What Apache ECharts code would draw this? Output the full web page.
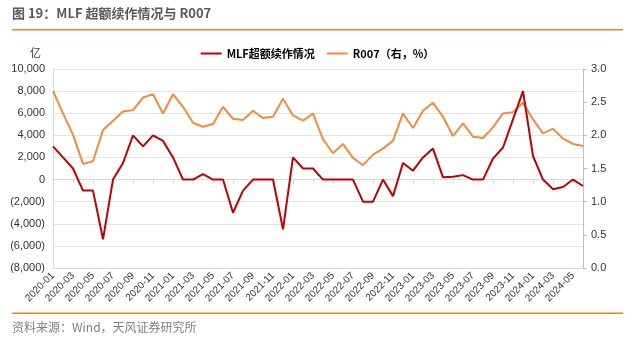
<!DOCTYPE html>
<html><head><meta charset="utf-8">
<script src="https://cdn.jsdelivr.net/npm/echarts@6/dist/echarts.min.js"></script>
<style>html,body{margin:0;padding:0;background:#fff}#c{width:635px;height:344px}</style>
</head><body><div id="c"></div>
<script>
var categories = ["2020-01","2020-02","2020-03","2020-04","2020-05","2020-06","2020-07","2020-08","2020-09","2020-10","2020-11","2020-12",
"2021-01","2021-02","2021-03","2021-04","2021-05","2021-06","2021-07","2021-08","2021-09","2021-10","2021-11","2021-12",
"2022-01","2022-02","2022-03","2022-04","2022-05","2022-06","2022-07","2022-08","2022-09","2022-10","2022-11","2022-12",
"2023-01","2023-02","2023-03","2023-04","2023-05","2023-06","2023-07","2023-08","2023-09","2023-10","2023-11","2023-12",
"2024-01","2024-02","2024-03","2024-04","2024-05","2024-06"];
var mlfExcess = [3000,2000,1000,-1000,-1000,-5400,0,1500,4000,3000,4000,3500,
2000,0,0,500,0,0,-3000,-1000,0,0,0,-4500,
2000,1000,1000,0,0,0,0,-2000,-2000,0,-1500,1500,
800,2000,2800,200,250,400,0,0,1900,2900,5450,8000,
2130,0,-880,-670,0,-580];
var r007 = [2.67,2.33,2.01,1.57,1.61,2.08,2.22,2.36,2.38,2.57,2.62,2.33,
2.62,2.43,2.19,2.13,2.17,2.43,2.25,2.23,2.37,2.26,2.28,2.55,
2.30,2.22,2.33,1.94,1.73,1.87,1.66,1.55,1.71,1.80,1.92,2.33,
2.11,2.37,2.49,2.28,1.99,2.18,1.98,1.96,2.12,2.33,2.35,2.49,
2.24,2.03,2.10,1.95,1.87,1.84];
var seriesNames = ["MLF超额续作情况","R007（右，%）"];

function fmtLeft(v){
  var s = Math.abs(v).toString().replace(/\B(?=(\d{3})+(?!\d))/g, ",");
  return v < 0 ? "(" + s + ")" : s;
}
var font = "'Liberation Sans','Noto Sans CJK SC',sans-serif";
var chart = echarts.init(document.getElementById('c'));
chart.setOption({
  animation:false,
  textStyle:{fontFamily:font},
  graphic:[
    {type:'text',left:12,top:7,style:{text:'图 19：MLF 超额续作情况与 R007',font:"bold 13px 'Noto Sans CJK SC',sans-serif",fill:'#595959'}},
    {type:'rect',shape:{x:12,y:29,width:611,height:1.5},style:{fill:'#F0821E'}},
    {type:'text',left:30,top:47,style:{text:'亿',font:"11px 'Noto Sans CJK SC',sans-serif",fill:'#333'}},
    {type:'rect',shape:{x:12,y:312.5,width:611,height:1.5},style:{fill:'#F0821E'}},
    {type:'text',left:12,top:321,style:{text:'资料来源：Wind，天风证券研究所',font:"12px 'Noto Sans CJK SC',sans-serif",fill:'#7f7f7f'}}
  ],
  legend:{
    top:43,left:'center',itemWidth:21,itemHeight:2,itemGap:12,icon:'rect',
    textStyle:{fontSize:11,fontWeight:'bold',color:'#000',fontFamily:"'Noto Sans CJK SC',sans-serif"},
    data:seriesNames
  },
  grid:{left:53,right:52,top:69,bottom:76},
  xAxis:[{
    type:'category',data:categories,boundaryGap:false,
    axisLine:{onZero:false,lineStyle:{color:'#d9d9d9'}},
    axisTick:{show:false},
    axisLabel:{interval:1,rotate:45,fontSize:10,color:'#333',margin:6}
  },{
    type:'category',data:categories,boundaryGap:false,position:'bottom',
    axisLine:{onZero:true,onZeroAxisIndex:0,lineStyle:{color:'#d9d9d9'}},
    axisTick:{show:true,interval:1,length:4,lineStyle:{color:'#d9d9d9'}},
    axisLabel:{show:false}
  }],
  yAxis:[{
    type:'value',min:-8000,max:10000,interval:2000,
    axisLine:{show:true,lineStyle:{color:'#d9d9d9'}},
    axisTick:{show:false},
    axisLabel:{formatter:fmtLeft,fontSize:11,color:'#333',margin:8},
    splitLine:{lineStyle:{color:'#e3e3e3'}}
  },{
    type:'value',min:0,max:3,interval:0.5,position:'right',
    axisLine:{show:true,lineStyle:{color:'#bfbfbf'}},
    axisTick:{show:true,length:4,lineStyle:{color:'#bfbfbf'}},
    axisLabel:{formatter:function(v){return v.toFixed(1);},fontSize:11,color:'#333',margin:8},
    splitLine:{show:false}
  }],
  series:[
    {name:seriesNames[0],type:'line',data:mlfExcess,yAxisIndex:0,xAxisIndex:0,symbol:'none',z:3,
     lineStyle:{color:'#C00000',width:2},itemStyle:{color:'#C00000'}},
    {name:seriesNames[1],type:'line',data:r007,yAxisIndex:1,xAxisIndex:0,symbol:'none',z:2,
     lineStyle:{color:'#F58A3C',width:2},itemStyle:{color:'#F58A3C'}}
  ]
});
</script></body></html>
